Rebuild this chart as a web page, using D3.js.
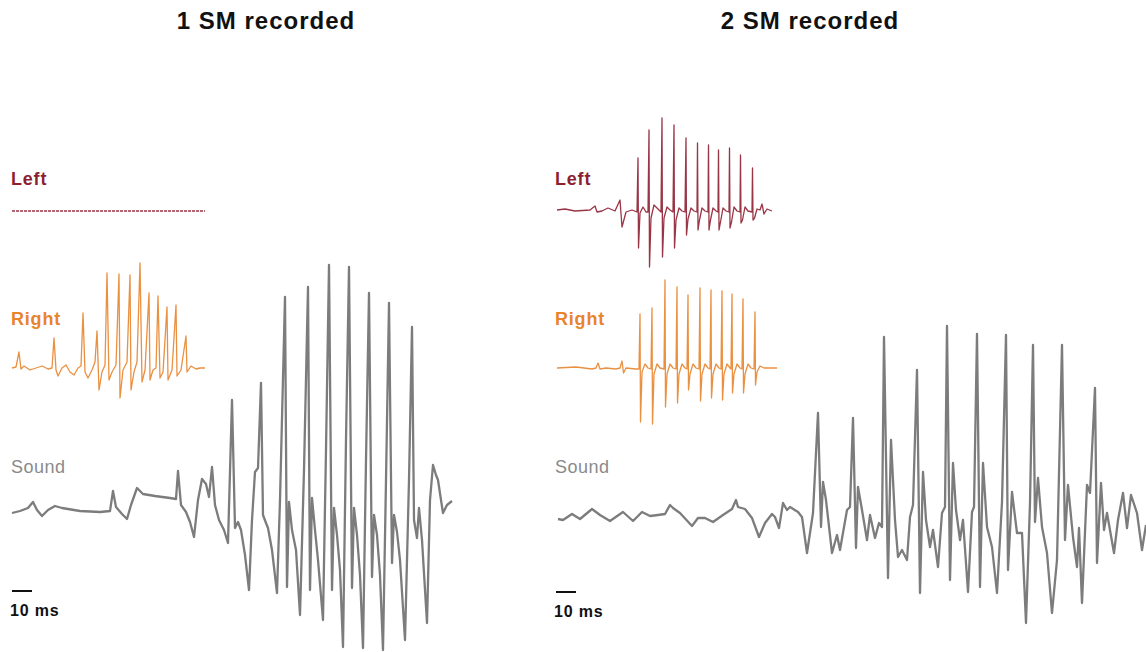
<!DOCTYPE html>
<html><head><meta charset="utf-8">
<script src="https://cdn.jsdelivr.net/npm/d3@7"></script>
<style>body{margin:0;background:#fff}svg{display:block}</style>
</head><body>
<svg id="c" width="1146" height="652"></svg>
<script>
// ---------- DATA: [time (ms), amplitude (a.u.)] ----------
const panelTitles = ["1 SM recorded", "2 SM recorded"];
const traceLabels = ["Left", "Right", "Sound"];
const scaleBarMs = 10;
const scaleBarLabel = "10 ms";

// Panel 1 (1 SM recorded)
const p1Left = [[0,0],[96.5,0]];
const p1Right = [[0,0],[2,1],[3.5,16],[4.5,-1],[6,2],[9,-2],[12,0],[15,2],[18,-1],[20,0],[21,30],[22,-2],[23,-8],[25,0],[27,3],[29,-4],[31,-7],[33,0],[34.5,2],[35.5,55],[36.5,-4],[38,-10],[40,-2],[41.5,6],[42.5,37],[43.5,-22],[45,-4],[46.5,3],[47.5,95],[48.5,-12],[50,-4],[52,3],[53.5,94],[54,-30],[55.5,-2],[57.5,6],[59,93],[59.5,-22],[61,-4],[62.5,6],[64,105],[65,-14],[66.5,-2],[68.5,75],[69,-12],[70.5,-2],[72,0],[73,72],[74,-10],[75.5,-4],[77.5,61],[78,-12],[80,-2],[82,63],[82.5,-8],[84.5,-2],[87,32],[87.5,-4],[89.5,2],[92,-1],[94,0],[96.5,0]];
const p1Sound = [[0,-1],[4,1],[8,4],[10.5,10],[12.5,2],[15,-4],[18,2],[21.5,6],[25,4],[34,1],[44,0],[49,1],[50.5,21],[52,5],[55,-2],[57.5,-7],[59.5,7],[62.5,24],[65.5,18],[71.5,16],[79,14],[82,13],[83,41],[84.5,7],[87,0],[89,-10],[91,-25],[93,12],[95,33],[97,28],[98.5,15],[100,45],[101.5,7],[103.5,-8],[106,-18],[108,-31],[110,112],[111.5,-16],[113,-10],[114.5,-18],[116.5,-43],[118.5,-78],[120,-8],[121.5,40],[123,44],[124.5,129],[125.5,-3],[127,-11],[128,-16],[130,-38],[132.5,-81],[134,12],[136.5,215],[137.5,-75],[138.5,10],[140,-18],[142,-38],[144,-103],[146,42],[148,225],[149,-78],[150,14],[151.5,-18],[153,-48],[155.5,-108],[157,62],[158.5,247],[160,-78],[161,4],[162.5,-23],[164,-58],[165.5,-135],[167,72],[168.5,245],[170,-76],[171,4],[172.5,-23],[174,-63],[175.5,-136],[177,52],[178.5,219],[180,-65],[181,-3],[182.5,-23],[184,-63],[185.5,-138],[187,32],[188.5,209],[190,-51],[191,-3],[192.5,-20],[194,-48],[196.5,-128],[198.5,32],[200,185],[201,-8],[202.5,-26],[203.5,4],[205,-28],[207.5,-111],[209,12],[210.5,47],[212,37],[213,32],[214.5,12],[215.5,-1],[217.5,7],[220,11]];

// Panel 2 (2 SM recorded)
const p2Left = [[0.5,0],[4.5,1],[9.5,-1],[17,0],[19.5,4],[20.5,-2],[23,-1],[26,2],[29.5,-1],[32,10],[33,-17],[35,-2],[38,0],[40.5,-2],[41,52],[41.25,-38],[42,-3],[43.5,3],[45,-2],[46,-2],[46.5,80],[46.75,-57],[47.5,-8],[49,5],[50.5,2],[52.5,-2],[53,92],[53.25,-47],[54,-8],[55.5,3],[57,0],[58.5,-2],[59,85],[59.25,-38],[60,-10],[61.5,2],[63,-1],[64.5,-2],[65,72],[65.25,-25],[66,-9],[67.5,2],[69,-1],[70.5,-2],[70.75,67],[71,-20],[71.75,-10],[73,2],[74.5,-1],[76,-2],[76.25,65],[76.5,-20],[77.25,-10],[78.5,2],[80,-1],[81,-2],[81.25,60],[81.5,-20],[82.25,-12],[83.5,2],[85,-1],[86.5,-2],[86.75,62],[87,-18],[87.75,-12],[89,3],[90.5,-1],[92,-2],[92.25,55],[92.5,-13],[93.25,-10],[94.5,3],[96,-1],[98,-2],[98.25,42],[98.5,-10],[99.25,-8],[100.5,1],[102,0],[103,6],[104,-4],[105.5,1],[108,-1]];
const p2Right = [[0.5,0],[10,1],[18,-1],[20,0],[21,5],[22,-1],[25,0],[30,-1],[32,0],[33,7],[33.75,-5],[35,0],[40,-1],[41.5,-1],[42,54],[42.25,-54],[43,-4],[44.5,4],[46,0],[47.5,-1],[48,60],[48.25,-56],[49,-6],[50.5,4],[52,0],[54,-1],[54.5,88],[54.75,-39],[55.5,-6],[57,4],[58.5,0],[60,-1],[60.5,81],[60.75,-35],[61.5,-6],[63,4],[64.5,0],[65.5,-1],[66,73],[66.25,-22],[67,-6],[68.5,4],[70,0],[71.5,-1],[72,80],[72.25,-33],[73,-6],[74.5,4],[76,0],[77,-1],[77.5,78],[77.75,-30],[78.5,-6],[80,4],[81.5,0],[82.5,-1],[83,77],[83.25,-32],[84,-6],[85.5,4],[87,0],[87.5,-1],[88,74],[88.25,-25],[89,-6],[90.5,4],[92,0],[93,-1],[93.5,69],[93.75,-25],[94.5,-6],[96,4],[97.5,0],[99,-1],[99.5,56],[99.75,-17],[100.5,-4],[102,2],[104,0],[110.5,0]];
const p2Sound = [[1,-1],[3.5,-2],[8,4],[12,-1],[18,9],[22,3],[27,-3],[33.5,6],[38.5,-3],[43,6],[47,2],[51,3],[54.5,4],[57,13],[58.5,10],[62,5],[68,-8],[71,0],[74.5,0],[78.5,-4],[83.5,3],[88,9],[90,18],[91,11],[94.5,9],[98,0],[101.5,-19],[104.5,-5],[108,4],[109.5,1],[111.5,-10],[113.5,15],[115.5,8],[117,11],[121,6],[123,1],[125.5,-35],[128.5,5],[131,105],[132.5,-9],[133.5,36],[135,18],[138,-35],[140.5,-17],[142,-32],[145.5,8],[147,11],[148.5,100],[150,-30],[151,31],[153,8],[155.5,-22],[157,3],[159.5,-20],[161.5,-5],[163,-9],[164,181],[166,-60],[167.5,78],[169.5,-2],[171,-39],[173,-32],[175.5,-42],[177,1],[178.5,13],[180.5,148],[182,-75],[183.5,46],[185,-2],[187,-29],[188.5,-12],[191,-49],[193,5],[194.5,11],[195.5,192],[197,-62],[198.5,55],[200,8],[202,-22],[203.5,-2],[206,-74],[208,6],[209,11],[210.5,184],[212,-69],[213.5,55],[215.5,-9],[218,-29],[220.5,-75],[223,16],[225,183],[226,-52],[228,26],[230.5,-15],[233,-15],[235,-105],[237,15],[238.5,173],[239.5,-4],[241,40],[243,-9],[245.5,-35],[248,-95],[250.5,-42],[253,173],[254.5,-22],[256,33],[258.5,-19],[260.5,-49],[261.5,-10],[263,-85],[265.5,33],[267,25],[269.5,130],[270.5,-45],[272.5,35],[274,-12],[275.5,5],[279,-35],[281,-2],[283.5,25],[285.5,-10],[287.5,23],[290.5,5],[293,-32],[295,-7]];

// ---------- DRAWING ----------
const svg = d3.select("#c");
const colors = {Left:"#8e1f32", Right:"#e8842c", Sound:"#7c7c7c"};
const font = "'Liberation Sans', Arial, sans-serif";

const panels = [
  {title: panelTitles[0], x0: 12, titleX: 266, traces: {Left:p1Left, Right:p1Right, Sound:p1Sound}, bases: {Left:211, Right:368, Sound:512}, barY: 591},
  {title: panelTitles[1], x0: 556, titleX: 810, traces: {Left:p2Left, Right:p2Right, Sound:p2Sound}, bases: {Left:210, Right:368, Sound:518}, barY: 592}
];
const labelY = {Left:185, Right:325, Sound:473};
const pxPerMs = 2;

panels.forEach((p, pi) => {
  const g = svg.append("g");
  const x = d3.scaleLinear().domain([0, 100]).range([p.x0, p.x0 + 100 * pxPerMs]);

  g.append("text").attr("x", p.titleX).attr("y", 29)
    .attr("text-anchor", "middle").attr("font-family", font)
    .attr("font-weight", "bold").attr("font-size", 24)
    .attr("letter-spacing", 1).attr("fill", "#111")
    .text(p.title);

  traceLabels.forEach(name => {
    const y = d3.scaleLinear().domain([0, 100]).range([p.bases[name], p.bases[name] - 100]);
    g.append("text").attr("x", p.x0 - 1).attr("y", labelY[name])
      .attr("font-family", font)
      .attr("font-weight", name === "Sound" ? "normal" : "bold")
      .attr("font-size", 18).attr("letter-spacing", name === "Sound" ? 0.5 : 0.8)
      .attr("fill", name === "Sound" ? "#8a8a8a" : colors[name])
      .text(name);
    const line = d3.line().x(d => x(d[0])).y(d => y(d[1]));
    const path = g.append("path").datum(p.traces[name])
      .attr("d", line).attr("fill", "none")
      .attr("stroke", colors[name])
      .attr("stroke-linejoin", "round")
      .attr("stroke-width", name === "Sound" ? 2.3 : 1.3);
    if (name !== "Sound") path.attr("stroke-opacity", 0.9);
    if (pi === 0 && name === "Left") path.attr("stroke-dasharray", "3,1").attr("stroke-width", 1.6);
  });

  // scale bar
  g.append("line").attr("x1", x(0)).attr("x2", x(scaleBarMs))
    .attr("y1", p.barY).attr("y2", p.barY)
    .attr("stroke", "#111").attr("stroke-width", 2);
  g.append("text").attr("x", p.x0 - 2).attr("y", p.barY + 25)
    .attr("font-family", font).attr("font-weight", "bold").attr("font-size", 16)
    .attr("letter-spacing", 0.8).attr("fill", "#111").text(scaleBarLabel);
});
</script>
</body></html>
